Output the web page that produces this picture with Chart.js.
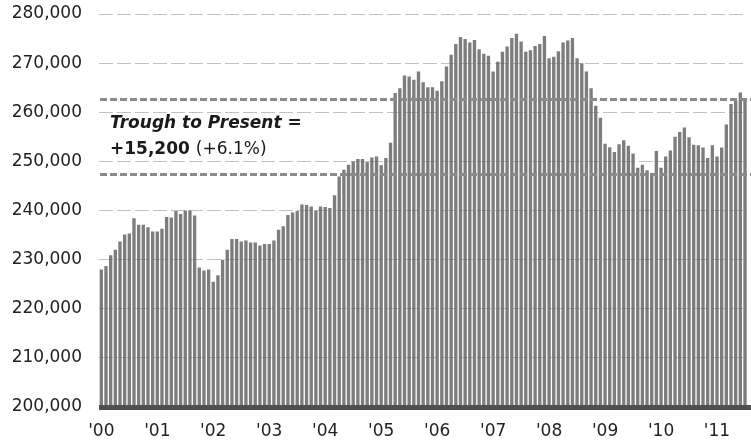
<!DOCTYPE html>
<html>
<head>
<meta charset="utf-8">
<script src="https://cdn.jsdelivr.net/npm/chart.js@4"></script>
<style>
  html, body { margin: 0; padding: 0; background: #fff; }
  #wrap { width: 751px; height: 445px; }
</style>
</head>
<body>
<div id="wrap"><canvas id="jobsChart"></canvas></div>
<script>
// monthly employment, Jan 2000 - Jul 2011
const jobs2000 = [228000, 228700, 230900, 232000, 233700, 235100, 235300, 238400, 237100, 237100, 236600, 235700];
const jobs2001 = [235700, 236300, 238700, 238600, 239900, 239300, 240000, 240000, 239000, 228400, 227800, 228000];
const jobs2002 = [225500, 226800, 230000, 232000, 234200, 234200, 233700, 233900, 233500, 233500, 232900, 233200];
const jobs2003 = [233200, 233900, 236100, 236800, 239100, 239600, 239900, 241200, 241100, 240800, 240000, 240800];
const jobs2004 = [240700, 240500, 243100, 246900, 248300, 249300, 250000, 250500, 250500, 250000, 250800, 251000];
const jobs2005 = [249200, 250700, 253800, 263900, 264900, 267500, 267300, 266600, 268300, 266100, 265100, 265100];
const jobs2006 = [264400, 266300, 269300, 271700, 273900, 275300, 274900, 274200, 274700, 272800, 271900, 271500];
const jobs2007 = [268300, 270300, 272300, 273400, 275100, 276000, 274400, 272300, 272600, 273500, 273900, 275500];
const jobs2008 = [271000, 271300, 272400, 274200, 274600, 275100, 271000, 270000, 268300, 264900, 261300, 258900];
const jobs2009 = [253600, 252900, 251900, 253500, 254300, 253200, 251600, 248700, 249300, 248200, 247500, 252100];
const jobs2010 = [248700, 251000, 252200, 255000, 256000, 256900, 254900, 253400, 253300, 252800, 250700, 253300];
const jobs2011 = [251000, 252800, 257500, 261700, 262400, 264000, 262700];

const yearTicks = ["'00", "'01", "'02", "'03", "'04", "'05", "'06", "'07", "'08", "'09", "'10", "'11"];
const monthNames = ['Jan', 'Feb', 'Mar', 'Apr', 'May', 'Jun', 'Jul', 'Aug', 'Sep', 'Oct', 'Nov', 'Dec'];

const yMin = 200000;
const yMax = 280000;
const yStep = 10000;

const noteLine1 = 'Trough to Present =';
const noteChange = '+15,200';
const notePct = '(+6.1%)';

const allYears = [jobs2000, jobs2001, jobs2002, jobs2003, jobs2004, jobs2005,
                  jobs2006, jobs2007, jobs2008, jobs2009, jobs2010, jobs2011];
const values = [].concat(...allYears);
const labels = [];
allYears.forEach((yr, y) => {
    yr.forEach((v, m) => labels.push(monthNames[m] + ' ' + yearTicks[y]));
});

// trough after the 2008 peak, and the latest month
const recent = values.slice(96);
const troughValue = Math.min(...recent);
const presentValue = values[values.length - 1];

const FONT = 'DejaVu Sans';

// draws the bottom bar, the two dashed reference lines and the note
const notePlugin = {
    id: 'notePlugin',
    afterDraw(chart) {
        const ctx = chart.ctx;
        const area = chart.chartArea;
        const y = chart.scales.y;
        ctx.save();

        // heavy base line
        ctx.fillStyle = '#4f4f4f';
        ctx.fillRect(area.left, area.bottom - 2, chart.width - area.left, 5);

        // dashed trough / present lines
        ctx.strokeStyle = '#8a8a8a';
        ctx.lineWidth = 3;
        ctx.setLineDash([7, 3]);
        [presentValue, troughValue].forEach(v => {
            const py = Math.round(y.getPixelForValue(v)) + 0.5;
            ctx.beginPath();
            ctx.moveTo(area.left + 1, py);
            ctx.lineTo(chart.width, py);
            ctx.stroke();
        });
        ctx.setLineDash([]);

        // note text
        const tx = area.left + 11;
        ctx.fillStyle = '#1a1a1a';
        ctx.textBaseline = 'alphabetic';
        ctx.font = 'italic bold 17px "' + FONT + '"';
        ctx.fillText(noteLine1, tx, 128);
        ctx.font = 'bold 17px "' + FONT + '"';
        ctx.fillText(noteChange, tx, 154);
        const w = ctx.measureText(noteChange).width;
        ctx.font = '17px "' + FONT + '"';
        ctx.fillText(notePct, tx + w + 6, 154);

        ctx.restore();
    }
};

const ctx = document.getElementById('jobsChart').getContext('2d');
const myChart = new Chart(ctx, {
    type: 'bar',
    data: {
        labels: labels,
        datasets: [{
            data: values,
            backgroundColor: '#7d7d7d',
            borderWidth: 0,
            barPercentage: 0.72,
            categoryPercentage: 1.0
        }]
    },
    options: {
        responsive: true,
        maintainAspectRatio: false,
        animation: false,
        layout: { padding: { top: 14, right: 1, left: 0, bottom: 0 } },
        plugins: {
            legend: { display: false },
            tooltip: { enabled: false }
        },
        scales: {
            x: {
                grid: { display: false },
                border: { display: false },
                ticks: {
                    autoSkip: false,
                    maxRotation: 0,
                    padding: 6,
                    color: '#222',
                    font: { family: FONT, size: 17 },
                    callback: function(val, index) {
                        return index % 12 === 0 ? yearTicks[index / 12] : '';
                    }
                },
                afterFit: function(scale) { scale.height = 38; }
            },
            y: {
                min: yMin,
                max: yMax,
                grid: {
                    z: 1,
                    drawTicks: false,
                    lineWidth: 1,
                    color: ctx => ctx.tick && ctx.tick.value === yMin ? 'rgba(0,0,0,0)' : 'rgba(100,100,100,0.4)'
                },
                border: { display: false, dash: [14, 4] },
                ticks: {
                    stepSize: yStep,
                    padding: 17,
                    color: '#222',
                    font: { family: FONT, size: 17 },
                    callback: v => v.toLocaleString('en-US')
                },
                afterFit: function(scale) {
                    scale.width = 99;
                    scale.paddingTop = 0;
                    scale.paddingBottom = 0;
                }
            }
        }
    },
    plugins: [notePlugin]
});
</script>
</body>
</html>
